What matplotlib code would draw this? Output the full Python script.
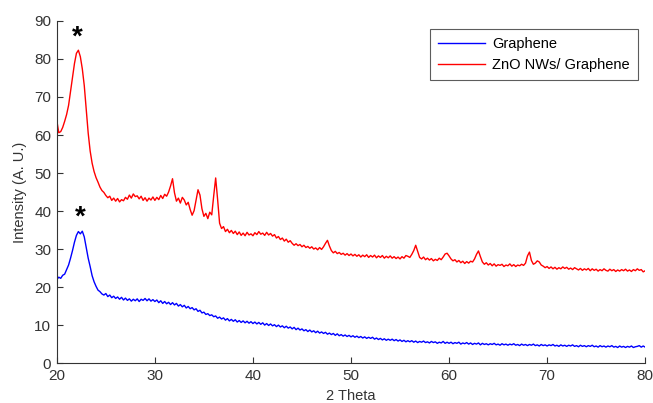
import matplotlib
matplotlib.use("Agg")
import matplotlib.pyplot as plt
import numpy as np

plt.rcParams["font.family"] = ["Liberation Sans", "DejaVu Sans"]

# === DATA (2 theta from 20 to 80, step 0.2) ===
two_theta = np.linspace(20, 80, 301)

zno_graphene = [
    63.8, 60.6, 60.9, 62.0, 63.6, 65.4, 67.8, 71.5, 75.2, 78.8,
    81.5, 82.3, 80.6, 77.4, 73.0, 66.8, 60.5, 55.8, 52.6, 50.4,
    48.8, 47.6, 46.3, 45.4, 44.9, 44.1, 43.5, 43.9, 42.8, 43.4,
    42.6, 43.3, 42.4, 43.0, 42.7, 43.6, 43.1, 44.2, 43.4, 44.5,
    43.8, 44.0, 43.2, 43.9, 42.8, 43.5, 42.6, 43.4, 42.9, 43.7,
    42.8, 43.6, 43.0, 44.1, 43.3, 44.4, 43.9, 45.0, 46.6, 48.5,
    44.8, 42.6, 43.4, 42.1, 43.6, 42.9, 41.6, 42.3, 40.4, 38.9,
    40.1, 42.8, 45.6, 44.2, 40.6, 38.6, 39.4, 38.0, 39.7, 39.0,
    44.0, 48.7, 43.0, 36.8, 35.4, 35.9, 34.6, 35.2, 34.3, 34.9,
    34.1, 34.7, 33.8, 34.5, 33.6, 34.2, 33.5, 34.4, 33.7, 34.0,
    33.5, 34.3, 33.8, 34.6, 33.9, 34.2, 33.6, 34.4, 33.7, 34.1,
    33.4, 33.8, 32.9, 33.3, 32.5, 32.9, 32.1, 32.6, 31.8, 32.2,
    31.5, 31.0, 31.4, 30.9, 31.2, 30.6, 31.0, 30.4, 30.7, 30.2,
    30.6, 30.0, 30.3, 29.8, 30.4, 29.9, 30.6, 31.5, 32.3, 30.8,
    29.6, 29.0, 29.4, 28.8, 29.1, 28.6, 28.9, 28.4, 28.8, 28.3,
    28.7, 28.2, 28.6, 28.1, 28.5, 27.9, 28.4, 28.0, 28.5, 27.8,
    28.3, 27.9, 28.4, 27.7, 28.2, 27.8, 28.3, 27.6, 28.1, 27.7,
    28.2, 27.6, 28.0, 27.5, 27.9, 27.4, 28.0, 27.6, 28.3, 28.1,
    27.8, 28.6, 29.6, 31.0, 29.4, 27.8, 27.4, 27.9, 27.2, 27.6,
    27.1, 27.5, 26.9, 27.3, 27.0, 27.6, 27.2, 27.9, 28.7, 28.9,
    28.2, 27.4, 26.9, 27.2, 26.6, 27.0, 26.4, 26.8, 26.2, 26.7,
    26.3, 26.8, 26.6, 27.4, 28.6, 29.5, 28.0, 26.6, 26.0, 26.4,
    25.8, 26.2, 25.6, 26.1, 25.5, 25.9, 25.7, 26.0, 25.4, 25.8,
    25.6, 26.1, 25.5, 25.9, 25.4, 25.8, 25.6, 26.0, 25.7, 26.3,
    28.2, 29.2, 27.0, 26.0, 26.3, 26.9, 26.6, 25.8, 25.5, 25.1,
    25.4, 24.9, 25.3, 24.8, 25.2, 24.7, 25.1, 24.8, 25.3, 24.9,
    25.2, 24.7, 25.0, 24.6, 25.1, 24.8, 24.5, 24.9, 24.4, 24.8,
    24.5, 24.9, 24.3, 24.8, 24.4, 24.7, 24.2, 24.6, 24.3, 24.8,
    24.4, 24.2, 24.7, 24.3, 24.6, 24.1, 24.5, 24.2, 24.6, 24.3,
    24.7, 24.2, 24.5, 24.1, 24.6, 24.3, 24.8, 24.4, 24.6, 24.0,
    24.3,
]

graphene = [
    22.0, 22.6, 22.3, 23.1, 23.4, 24.6, 25.8, 27.6, 29.6, 31.8,
    33.6, 34.6, 34.0, 34.7, 33.2, 30.4, 27.6, 25.4, 23.0, 21.4,
    20.2, 19.2, 18.8, 18.2, 17.9, 18.3, 17.5, 17.9, 17.2, 17.6,
    17.0, 17.4, 16.8, 17.3, 16.6, 17.1, 16.5, 16.9, 16.3, 16.8,
    16.4, 16.9, 16.2, 16.8, 16.5, 17.0, 16.4, 16.9, 16.3, 16.7,
    16.2, 16.6, 15.9, 16.4, 15.7, 16.2, 15.6, 16.0, 15.4, 15.9,
    15.3, 15.7, 15.0, 15.4, 14.8, 15.2, 14.5, 14.9, 14.3, 14.6,
    14.0, 14.3, 13.6, 13.9, 13.2, 13.4, 12.8, 13.0, 12.5, 12.7,
    12.2, 12.4, 11.8, 12.1, 11.6, 11.9, 11.3, 11.7, 11.1, 11.5,
    11.0, 11.4, 10.8, 11.2, 10.7, 11.1, 10.6, 11.0, 10.5, 10.9,
    10.4, 10.8, 10.3, 10.7, 10.2, 10.6, 10.0, 10.4, 9.9, 10.3,
    9.8, 10.1, 9.6, 10.0, 9.5, 9.8, 9.3, 9.7, 9.2, 9.5,
    9.0, 9.4, 8.8, 9.2, 8.7, 9.0, 8.5, 8.8, 8.3, 8.7,
    8.2, 8.5, 8.0, 8.4, 7.9, 8.2, 7.8, 8.1, 7.6, 7.9,
    7.5, 7.8, 7.3, 7.7, 7.2, 7.5, 7.1, 7.4, 7.0, 7.3,
    6.9, 7.2, 6.8, 7.1, 6.7, 7.0, 6.6, 6.9, 6.5, 6.8,
    6.5, 6.8, 6.3, 6.6, 6.2, 6.5, 6.1, 6.4, 6.0, 6.3,
    6.0, 6.3, 5.9, 6.2, 5.8, 6.1, 5.7, 6.0, 5.6, 5.9,
    5.6, 5.9, 5.5, 5.8, 5.4, 5.7, 5.5, 5.8, 5.4, 5.6,
    5.3, 5.7, 5.4, 5.6, 5.2, 5.5, 5.3, 5.7, 5.2, 5.5,
    5.2, 5.5, 5.1, 5.4, 5.2, 5.5, 5.0, 5.3, 5.1, 5.4,
    5.0, 5.3, 4.9, 5.2, 5.0, 5.3, 4.8, 5.2, 4.9, 5.1,
    4.8, 5.1, 4.9, 5.2, 4.8, 5.0, 4.7, 5.1, 4.8, 5.0,
    4.7, 5.0, 4.8, 5.1, 4.7, 4.9, 4.6, 5.0, 4.7, 4.9,
    4.6, 4.9, 4.7, 5.0, 4.6, 4.8, 4.5, 4.9, 4.6, 4.8,
    4.5, 4.8, 4.6, 4.9, 4.5, 4.7, 4.4, 4.8, 4.5, 4.7,
    4.4, 4.7, 4.5, 4.8, 4.4, 4.6, 4.3, 4.7, 4.4, 4.6,
    4.3, 4.6, 4.4, 4.7, 4.3, 4.5, 4.2, 4.6, 4.3, 4.5,
    4.2, 4.5, 4.3, 4.6, 4.2, 4.4, 4.1, 4.5, 4.2, 4.4,
    4.1, 4.4, 4.2, 4.5, 4.1, 4.3, 4.4, 4.6, 4.2, 4.5,
    4.2,
]

# peak markers (*) above the graphene (002) peaks
star_x = [22.1, 22.35]
star_y = [85.6, 38.2]

# === PLOT ===
fig = plt.figure(figsize=(6.53, 4.03), dpi=100)
ax = fig.add_axes([0.087, 0.099, 0.901, 0.849])

ax.plot(two_theta, graphene, color="blue", lw=1.0, label="Graphene")
ax.plot(two_theta, zno_graphene, color="red", lw=1.0, label="ZnO NWs/ Graphene")

for sx, sy in zip(star_x, star_y):
    ax.text(sx, sy, "*", fontsize=20, fontweight="bold", ha="center", va="center")

ax.set_xlim(20, 80)
ax.set_ylim(0, 90)
ax.set_xticks(range(20, 81, 10))
ax.set_yticks(range(0, 91, 10))
ax.set_xlabel("2 Theta", fontsize=10.5, color="#333333", labelpad=4.5)
ax.set_ylabel("Intensity (A. U.)", fontsize=10.5, color="#333333", labelpad=5)

for side in ["top", "right"]:
    ax.spines[side].set_visible(False)
for side in ["left", "bottom"]:
    ax.spines[side].set_color("#333333")
    ax.spines[side].set_linewidth(0.8)
ax.tick_params(direction="in", length=4, width=0.8, colors="#333333",
               labelsize=11, pad=4)

leg = ax.legend(loc="upper right", bbox_to_anchor=(0.988, 0.976), fontsize=10.5,
                frameon=True, fancybox=False, edgecolor="#333333",
                handlelength=3.2, borderpad=0.55, labelspacing=0.45,
                handletextpad=0.5, borderaxespad=0)
leg.get_frame().set_linewidth(0.8)

plt.savefig("out.png", dpi=100)
